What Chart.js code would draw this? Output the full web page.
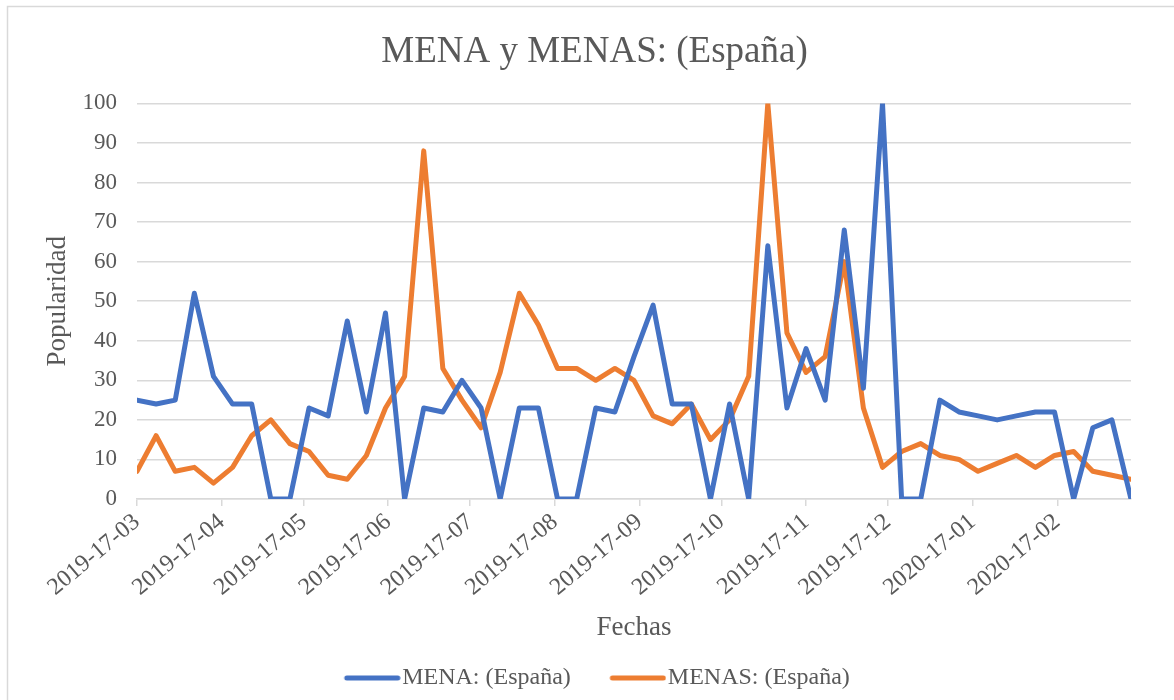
<!DOCTYPE html>
<html>
<head>
<meta charset="utf-8">
<script src="https://cdn.jsdelivr.net/npm/chart.js@4.4.1/dist/chart.umd.min.js"></script>
<style>
  html, body { margin: 0; padding: 0; background: #fff; }
  #wrap { width: 1174px; height: 700px; position: relative; }
</style>
</head>
<body>
<div id="wrap"><canvas id="chart"></canvas></div>
<script>
// weekly values (Google Trends style), first week = 2019-03-17
const mena = [25, 24, 25, 52, 31, 24, 24, 0, 0, 23,
              21, 45, 22, 47, 0, 23, 22, 30, 23, 0,
              23, 23, 0, 0, 23, 22, 36, 49, 24, 24,
              0, 24, 0, 64, 23, 38, 25, 68, 28, 100,
              0, 0, 25, 22, 21, 20, 21, 22, 22, 0,
              18, 20, 0];
const menas = [7, 16, 7, 8, 4, 8, 16, 20, 14, 12,
               6, 5, 11, 23, 31, 88, 33, 25, 18, 32,
               52, 44, 33, 33, 30, 33, 30, 21, 19, 24,
               15, 20, 31, 100, 42, 32, 36, 60, 23, 8,
               12, 14, 11, 10, 7, 9, 11, 8, 11, 12,
               7, 6, 5];

// monthly axis labels and their day offsets from the first week
const tickLabels = ['2019-17-03', '2019-17-04', '2019-17-05', '2019-17-06', '2019-17-07', '2019-17-08',
                    '2019-17-09', '2019-17-10', '2019-17-11', '2019-17-12', '2020-17-01', '2020-17-02'];
const tickDays = [0, 31, 61, 92, 122, 153, 184, 214, 245, 275, 306, 337];
const lastDay = 364;

const BLUE = '#4472C4';
const ORANGE = '#ED7D31';

const toPoints = (arr) => arr.map((v, i) => ({ x: i * 7, y: v }));

// legend sample: a short line drawn close to the label text, like Excel
function legendLine(color) {
  const c = document.createElement('canvas');
  c.width = 96;
  c.height = 8;
  const g = c.getContext('2d');
  g.strokeStyle = color;
  g.lineWidth = 5;
  g.lineCap = 'round';
  g.beginPath();
  g.moveTo(42, 4);
  g.lineTo(93, 4);
  g.stroke();
  return c;
}

Chart.defaults.font.family = "'Liberation Serif', 'Times New Roman', serif";
Chart.defaults.color = '#595959';

const frame = {
  id: 'frame',
  beforeDraw: (chart) => {
    const ctx = chart.ctx;
    ctx.save();
    ctx.fillStyle = 'white';
    ctx.fillRect(0, 0, chart.width, chart.height);
    ctx.strokeStyle = '#d9d9d9';
    ctx.lineWidth = 1.5;
    ctx.beginPath();
    ctx.moveTo(7.5, chart.height);
    ctx.lineTo(7.5, 6.5);
    ctx.lineTo(chart.width, 6.5);
    ctx.stroke();
    ctx.restore();
  },
  afterLayout: (chart) => {
    // title and legend in the reference sit a bit right of the plot centre
    chart.legend.left += 34;
    chart.titleBlock.left += 58;
  }
};

const ctx = document.getElementById('chart').getContext('2d');
new Chart(ctx, {
  type: 'line',
  data: {
    datasets: [{
      label: 'MENA: (España)',
      data: toPoints(mena),
      borderColor: BLUE,
      backgroundColor: BLUE,
      borderWidth: 5,
      pointRadius: 0,
      pointStyle: legendLine(BLUE),
      borderJoinStyle: 'round',
      borderCapStyle: 'round',
    }, {
      label: 'MENAS: (España)',
      data: toPoints(menas),
      borderColor: ORANGE,
      backgroundColor: ORANGE,
      borderWidth: 5,
      pointRadius: 0,
      pointStyle: legendLine(ORANGE),
      borderJoinStyle: 'round',
      borderCapStyle: 'round',
    }]
  },
  options: {
    responsive: true,
    maintainAspectRatio: false,
    animation: false,
    layout: { padding: { left: 0, right: 43, top: 0, bottom: 0 } },
    plugins: {
      title: {
        display: true,
        text: 'MENA y MENAS: (España)',
        font: { size: 37, weight: 'normal' },
        color: '#595959',
        padding: { top: 30, bottom: 29 }
      },
      legend: {
        position: 'bottom',
        labels: {
          usePointStyle: true,
          pointStyleWidth: 75,
          font: { size: 24 },
          color: '#595959',
          padding: 10,
          boxHeight: 24
        }
      },
      tooltip: { enabled: false }
    },
    scales: {
      x: {
        type: 'linear',
        min: 0,
        max: lastDay,
        afterBuildTicks: (scale) => {
          scale.ticks = tickDays.map(d => ({ value: d }));
        },
        afterFit: (scale) => { scale.height = 157; },
        ticks: {
          autoSkip: false,
          minRotation: 40,
          maxRotation: 40,
          font: { size: 24 },
          color: '#595959',
          padding: 2,
          callback: (v, i) => tickLabels[i]
        },
        grid: {
          drawOnChartArea: false,
          drawTicks: true,
          tickLength: 7,
          color: '#d9d9d9',
          lineWidth: 1.5
        },
        border: { color: '#d9d9d9', width: 1.5 },
        title: {
          display: true,
          text: 'Fechas',
          font: { size: 27 },
          color: '#595959',
          padding: { top: 4, bottom: 12 }
        }
      },
      y: {
        min: 0,
        max: 100,
        afterFit: (scale) => { scale.width = 137; },
        ticks: {
          stepSize: 10,
          font: { size: 23 },
          color: '#595959',
          padding: 20
        },
        grid: {
          color: '#d9d9d9',
          lineWidth: 1.5,
          drawTicks: false
        },
        border: { display: false },
        title: {
          display: true,
          text: 'Popularidad',
          font: { size: 27 },
          color: '#595959',
          padding: { top: 42, bottom: 0 }
        }
      }
    }
  },
  plugins: [frame]
});
</script>
</body>
</html>
